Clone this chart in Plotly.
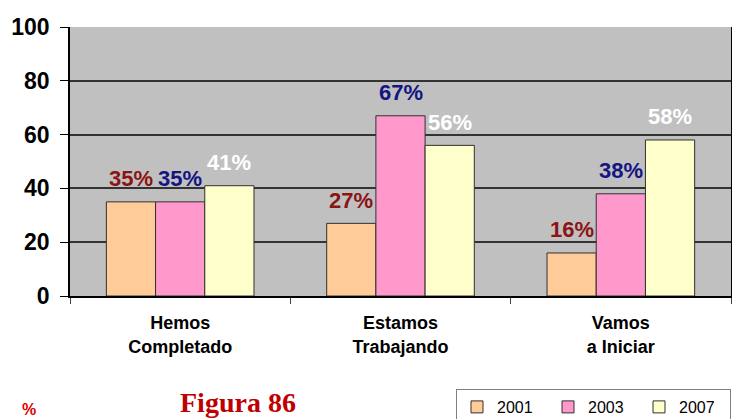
import plotly.graph_objects as go

categories = ["Hemos<br>Completado", "Estamos<br>Trabajando", "Vamos<br>a Iniciar"]
series_names = ["2001", "2003", "2007"]
values_2001 = [35, 27, 16]
values_2003 = [35, 67, 38]
values_2007 = [41, 56, 58]
y_ticks = [0, 20, 40, 60, 80, 100]

bar_colors = ["#FFCC99", "#FF99CC", "#FFFFCC"]
label_colors = ["#8B1414", "#141482", "#FFFFFF"]
series_values = [values_2001, values_2003, values_2007]

W, H = 732, 419
ml, mr, mt, mb = 70, 1, 27, 123
bargap = 0.33
plot_w = W - ml - mr
plot_h = H - mt - mb
cat_w = plot_w / len(categories)
bar_w = cat_w * (1 - bargap) / len(series_names)

fig = go.Figure()
for name, vals, col in zip(series_names, series_values, bar_colors):
    fig.add_trace(go.Bar(
        x=categories, y=vals, name=name,
        marker=dict(color=col, line=dict(color="#303030", width=1)),
    ))

annotations = []
for si, (vals, lc) in enumerate(zip(series_values, label_colors)):
    offset = (si - 1) * bar_w
    for cat, v in zip(categories, vals):
        annotations.append(dict(
            x=cat, y=v, xref="x", yref="y", text=f"{v}%", showarrow=False,
            xshift=offset, yshift=23, yanchor="middle",
            font=dict(family="Liberation Sans", size=22, color=lc, weight="bold"),
        ))

annotations.append(dict(
    x=(238 - ml) / plot_w, y=(H - mb - 402) / plot_h, xref="paper", yref="paper",
    text="<b>Figura 86</b>", showarrow=False, xanchor="center", yanchor="middle",
    font=dict(family="Liberation Serif", size=28, color="#C00000"),
))
annotations.append(dict(
    x=(29 - ml) / plot_w, y=(H - mb - 409) / plot_h, xref="paper", yref="paper",
    text="<b>%</b>", showarrow=False, xanchor="center", yanchor="middle",
    font=dict(family="Liberation Sans", size=16, color="#E00000"),
))

fig.update_layout(
    width=W, height=H,
    margin=dict(l=ml, r=mr, t=mt, b=mb, autoexpand=False),
    paper_bgcolor="white", plot_bgcolor="#C0C0C0",
    barmode="group", bargap=bargap, bargroupgap=0,
    showlegend=True,
    legend=dict(
        orientation="h", x=1.0, y=(H - mb - 389) / plot_h,
        xanchor="right", yanchor="top",
        bordercolor="#808080", borderwidth=1, bgcolor="white",
        font=dict(family="Liberation Sans", size=16, color="black"),
        entrywidth=46, entrywidthmode="pixels", itemwidth=30,
        tracegroupgap=0,
    ),
    annotations=annotations,
)
fig.update_xaxes(
    showline=True, linecolor="black", linewidth=1.5,
    ticks="outside", tickson="boundaries", ticklen=6, tickcolor="#404040",
    tickfont=dict(family="Liberation Sans", size=18, color="black", weight="bold"),
    ticklabelstandoff=10,
    showgrid=False,
)
fig.update_yaxes(
    range=[0, 100], tickvals=y_ticks, ticks="outside", ticklen=8, tickcolor="black",
    showline=True, linecolor="black", linewidth=1.5, mirror=True,
    showgrid=True, gridcolor="#333333", gridwidth=1.5, zeroline=False,
    tickfont=dict(family="Liberation Sans", size=23, color="black", weight="bold"),
    ticklabelstandoff=6,
)

fig.write_html(
    "out.html",
    config={"displayModeBar": False},
    post_script="document.body.style.margin='0';document.body.style.overflow='hidden';",
)
